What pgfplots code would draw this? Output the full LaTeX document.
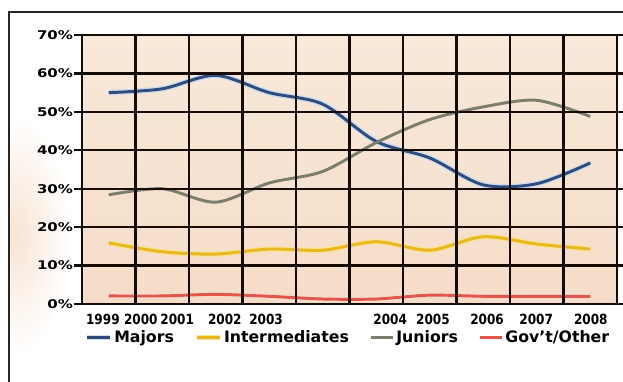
\documentclass[border=0pt]{standalone}
\usepackage{pgfplots}
\pgfplotsset{compat=1.18}
\usepackage{fontspec}
\setmainfont{DejaVu Sans}

\definecolor{gridbrown}{RGB}{22,10,4}
\definecolor{bgtop}{RGB}{248,233,218}
\definecolor{bgbot}{RGB}{245,220,200}
\definecolor{majors}{RGB}{46,76,124}
\definecolor{majorshalo}{RGB}{205,220,236}
\definecolor{inter}{RGB}{233,184,30}
\definecolor{interhalo}{RGB}{248,226,150}
\definecolor{juniors}{RGB}{122,126,106}
\definecolor{gov}{RGB}{226,86,76}
\definecolor{peach}{RGB}{248,228,212}

% year labels are set slightly narrower, percentages slightly wider
\newcommand\yr[1]{\scalebox{0.86}[1]{#1}}

% Share of each group, 1999--2008 (%)
\pgfplotstableread{
x  majors inter juniors gov
1  55.0   15.9  28.4    2.1
2  56.0   13.6  30.0    2.1
3  59.5   13.0  26.5    2.5
4  55.0   14.3  31.5    2.0
5  52.0   14.0  34.5    1.3
6  42.3   16.2  42.0    1.3
7  38.0   14.0  48.0    2.3
8  31.0   17.5  51.3    2.0
9  31.3   15.6  53.0    2.0
10 36.7   14.3  48.8    2.0
}\shares

\begin{document}
\begin{tikzpicture}
\useasboundingbox (0,0) rectangle (467.25pt,285.75pt);
% soft tint at the left of the panel
\begin{scope}
  \clip (7pt,0pt) rectangle (70pt,276pt);
  \shade[inner color=peach, outer color=white] (12pt,110pt) ellipse (40pt and 90pt);
\end{scope}
% panel frame
\draw[line width=1.1pt, black!85] (6.75pt,-2pt) -- (6.75pt,276.75pt) -- (470pt,276.75pt);
\begin{axis}[
  at={(61.5pt,57.75pt)}, anchor=south west,
  scale only axis, width=401.25pt, height=201.75pt,
  xmin=0.5, xmax=10.5, ymin=0, ymax=70,
  axis on top,
  axis background/.style={top color=bgtop, bottom color=bgbot},
  axis line style={line width=1.8pt, gridbrown},
  xtick={0.89,1.60,2.28,3.17,3.94,6.26,7.06,8.07,8.99,10.01},
  xticklabels={\yr{1999},\yr{2000},\yr{2001},\yr{2002},\yr{2003},
               \yr{2004},\yr{2005},\yr{2006},\yr{2007},\yr{2008}},
  minor xtick={0.5,1.5,...,10.5},
  xminorgrids, ymajorgrids,
  ytick={0,10,...,70},
  yticklabel={\scalebox{1.25}[1]{\pgfmathprintnumber[assume math mode=true]{\tick}\%}},
  tick align=outside,
  major tick length=6pt, minor tick length=2.5pt,
  xtick style={draw=none},
  minor x tick style={line width=1.8pt, gridbrown},
  ytick style={line width=1.8pt, gridbrown},
  grid style={line width=1.8pt, gridbrown},
  minor grid style={line width=1.8pt, gridbrown},
  xticklabel style={font=\fontsize{10.5}{12}\selectfont\bfseries, inner ysep=1.5pt},
  yticklabel style={font=\fontsize{9}{11}\selectfont\bfseries, inner xsep=0.6pt},
  legend columns=4,
  legend image code/.code={\draw[#1] (0pt,0pt) -- (17pt,0pt);},
  legend style={at={(0.004,-0.125)}, anchor=west, draw=none, fill=none,
    inner sep=0pt, font=\fontsize{11.8}{14}\selectfont\bfseries,
    nodes={inner xsep=1.2pt},
    /tikz/every even column/.append style={column sep=14pt}},
]
\addplot[majors, line width=2.2pt, smooth, tension=0.5,
  preaction={draw, majorshalo, line width=4.2pt}] table[x=x,y=majors]{\shares};
\addlegendentry{Majors}
\addplot[inter, line width=2.2pt, smooth, tension=0.5,
  preaction={draw, interhalo, line width=4.2pt}] table[x=x,y=inter]{\shares};
\addlegendentry{Intermediates}
\addplot[juniors, line width=2.2pt, smooth, tension=0.5] table[x=x,y=juniors]{\shares};
\addlegendentry{Juniors}
\addplot[gov, line width=2.2pt, smooth, tension=0.5] table[x=x,y=gov]{\shares};
\addlegendentry{Gov’t/Other}
\end{axis}
\end{tikzpicture}
\end{document}
